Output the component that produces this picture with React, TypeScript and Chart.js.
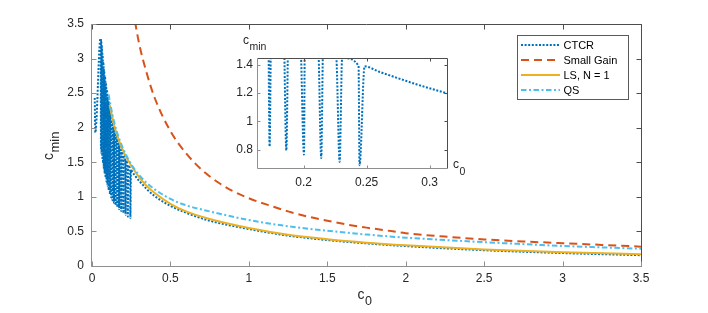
import React, { useEffect, useRef } from 'react';
import { Chart, registerables } from 'chart.js';

Chart.register(...registerables);

// ---------- data ----------
// CTCR: start, peak, V-shaped notches (left top, bottom, right top), then smooth tail
const ctcrC0 = [
  0.0175, 0.021, 0.054,
  0.0562, 0.0569, 0.0573,
  0.0602, 0.061, 0.0615,
  0.0646, 0.0654, 0.0659,
  0.0692, 0.0701, 0.0706,
  0.0742, 0.0751, 0.0757,
  0.0795, 0.0805, 0.0811,
  0.0852, 0.0863, 0.0869,
  0.0913, 0.0925, 0.0932,
  0.098, 0.0992, 0.0999,
  0.105, 0.1063, 0.1071,
  0.1126, 0.114, 0.1149,
  0.1207, 0.1222, 0.1231,
  0.1294, 0.131, 0.132,
  0.1386, 0.1404, 0.1415,
  0.1486, 0.1505, 0.1516,
  0.1594, 0.1614, 0.1626,
  0.1718, 0.173, 0.1744,
  0.184, 0.1863, 0.188,
  0.1972, 0.2003, 0.201,
  0.2115, 0.214, 0.2155,
  0.2258, 0.2286, 0.2306,
  0.2317, 0.2436, 0.2444, 0.2484,
  0.26, 0.2714, 0.29, 0.313, 0.35, 0.4, 0.5, 0.6, 0.75, 1.0, 1.25, 1.5, 1.75, 2.0, 2.5, 3.0, 3.5,
];
const ctcrVal = [
  2.43, 1.93, 3.29,
  3.28, 1.7, 3.27,
  3.2, 1.63, 3.19,
  3.08, 1.56, 3.07,
  2.96, 1.49, 2.95,
  2.85, 1.42, 2.84,
  2.75, 1.35, 2.74,
  2.65, 1.28, 2.64,
  2.56, 1.22, 2.55,
  2.47, 1.16, 2.46,
  2.38, 1.1, 2.37,
  2.29, 1.04, 2.28,
  2.2, 0.99, 2.19,
  2.11, 0.95, 2.1,
  2.02, 0.915, 2.01,
  1.94, 0.88, 1.93,
  1.85, 0.85, 1.84,
  1.77, 0.823, 1.76,
  1.69, 0.795, 1.68,
  1.61, 0.765, 1.6,
  1.535, 0.741, 1.525,
  1.465, 0.713, 1.455,
  1.447, 1.392, 0.69, 1.388,
  1.35, 1.315, 1.26, 1.2, 1.11, 1.01, 0.87, 0.77, 0.655, 0.535, 0.44, 0.375, 0.327, 0.288, 0.228, 0.187, 0.156,
];

const sgC0 = [0.26, 0.3, 0.35, 0.4, 0.5, 0.6, 0.7, 0.8, 0.9, 1.0, 1.125, 1.25, 1.375, 1.5, 1.625, 1.75, 1.875, 2.0, 2.25, 2.5, 2.75, 3.0, 3.25, 3.5];
const sgVal = [3.72, 3.22, 2.78, 2.43, 1.95, 1.63, 1.39, 1.215, 1.08, 0.98, 0.88, 0.79, 0.715, 0.655, 0.6, 0.555, 0.515, 0.475, 0.425, 0.385, 0.355, 0.33, 0.305, 0.28];

const lsC0 = [0.112, 0.136, 0.16, 0.21, 0.253, 0.3, 0.35, 0.4, 0.5, 0.6, 0.75, 1.0, 1.25, 1.5, 1.75, 2.0, 2.5, 3.0, 3.5];
const lsVal = [2.33, 2.08, 1.89, 1.61, 1.443, 1.285, 1.155, 1.055, 0.9, 0.79, 0.68, 0.55, 0.453, 0.388, 0.338, 0.3, 0.239, 0.199, 0.17];

const qsC0 = [0.106, 0.13, 0.16, 0.2, 0.25, 0.3, 0.35, 0.4, 0.5, 0.6, 0.75, 1.0, 1.25, 1.5, 1.75, 2.0, 2.5, 3.0, 3.5];
const qsVal = [2.48, 2.19, 1.93, 1.69, 1.47, 1.317, 1.2, 1.108, 0.97, 0.878, 0.79, 0.665, 0.575, 0.51, 0.455, 0.41, 0.345, 0.29, 0.25];

const mainXTicks = [0, 0.5, 1, 1.5, 2, 2.5, 3, 3.5];
const mainXLabels = ['0', '0.5', '1', '1.5', '2', '2.5', '3', '3.5'];
const mainYTicks = [0, 0.5, 1, 1.5, 2, 2.5, 3, 3.5];
const mainYLabels = ['0', '0.5', '1', '1.5', '2', '2.5', '3', '3.5'];

const insetXTicks = [0.2, 0.25, 0.3];
const insetXLabels = ['0.2', '0.25', '0.3'];
const insetYTicks = [0.8, 1, 1.2, 1.4];
const insetYLabels = ['0.8', '1', '1.2', '1.4'];

const legendLabels = ['CTCR', 'Small Gain', 'LS, N = 1', 'QS'];

// ---------- styles ----------
const FONT = "'Liberation Sans', Arial, Helvetica, sans-serif";
const C_CTCR = '#0072BD';
const C_SG = '#D95319';
const C_LS = '#EDB120';
const C_QS = '#4DBEEE';
const DASH_CTCR = [2, 1.6];
const DASH_SG = [8, 5];
const DASH_LS: number[] = [];
const DASH_QS = [5.5, 2.5, 2, 2.5];
const TEXT = '#262626';

const pts = (xs: number[], ys: number[]) => xs.map((x, i) => ({ x, y: ys[i] }));

function framePlugin(tickLen: number) {
  return {
    id: 'frame',
    afterDatasetsDraw(chart: any) {
      const { ctx, chartArea } = chart;
      const { left, right, top, bottom } = chartArea;
      const xs = chart.scales.x;
      const ys = chart.scales.y;
      const L = left - 0.5;
      const R = right + 0.5;
      const T = top + 0.5;
      const B = bottom + 0.5;
      ctx.save();
      ctx.lineWidth = 1;
      ctx.setLineDash([]);
      ctx.strokeStyle = '#4d4d4d';
      ctx.beginPath();
      ctx.moveTo(L, T);
      ctx.lineTo(R, T);
      ctx.lineTo(R, B);
      for (const t of xs.ticks) {
        const px = Math.round(xs.getPixelForValue(t.value)) + 0.5;
        ctx.moveTo(px, T);
        ctx.lineTo(px, T + tickLen);
      }
      for (const t of ys.ticks) {
        const py = Math.round(ys.getPixelForValue(t.value)) + 0.5;
        ctx.moveTo(R, py);
        ctx.lineTo(R - tickLen, py);
      }
      ctx.stroke();
      ctx.strokeStyle = '#8f8f8f';
      ctx.beginPath();
      ctx.moveTo(L, T);
      ctx.lineTo(L, B);
      ctx.lineTo(R, B);
      for (const t of xs.ticks) {
        const px = Math.round(xs.getPixelForValue(t.value)) + 0.5;
        ctx.moveTo(px, B);
        ctx.lineTo(px, B - tickLen);
      }
      for (const t of ys.ticks) {
        const py = Math.round(ys.getPixelForValue(t.value)) + 0.5;
        ctx.moveTo(L, py);
        ctx.lineTo(L + tickLen, py);
      }
      ctx.stroke();
      ctx.restore();
    },
  };
}

function drawSub(ctx: CanvasRenderingContext2D, x: number, y: number, base: string, sub: string, baseSize: number, subSize: number, dy: number) {
  ctx.font = `${baseSize}px ${FONT}`;
  ctx.fillText(base, x, y);
  const w = ctx.measureText(base).width;
  ctx.font = `${subSize}px ${FONT}`;
  ctx.fillText(sub, x + w + 0.5, y + dy);
}

const mainDecor = {
  id: 'mainDecor',
  afterDraw(chart: any) {
    const ctx: CanvasRenderingContext2D = chart.ctx;
    ctx.save();
    ctx.fillStyle = TEXT;
    ctx.textBaseline = 'alphabetic';
    ctx.textAlign = 'left';
    drawSub(ctx, 357.5, 299, 'c', '0', 14, 12.5, 5.5);
    ctx.save();
    ctx.translate(53, 160);
    ctx.rotate(-Math.PI / 2);
    drawSub(ctx, 0, 0, 'c', 'min', 14, 13, 6);
    ctx.restore();

    const bx = 517.5, by = 35.5, bw = 111, bh = 64;
    ctx.fillStyle = '#ffffff';
    ctx.fillRect(bx, by, bw, bh);
    ctx.strokeStyle = '#5a5a5a';
    ctx.lineWidth = 1;
    ctx.setLineDash([]);
    ctx.strokeRect(bx, by, bw, bh);
    const colors = [C_CTCR, C_SG, C_LS, C_QS];
    const dashes = [DASH_CTCR, DASH_SG, DASH_LS, DASH_QS];
    legendLabels.forEach((lab, i) => {
      const yy = 45 + i * 15;
      ctx.beginPath();
      ctx.strokeStyle = colors[i];
      ctx.lineWidth = 2;
      ctx.setLineDash(dashes[i]);
      ctx.moveTo(521, yy);
      ctx.lineTo(560, yy);
      ctx.stroke();
      ctx.setLineDash([]);
      ctx.fillStyle = '#000000';
      ctx.font = `11px ${FONT}`;
      ctx.textBaseline = 'middle';
      ctx.fillText(lab, 563.5, yy + 0.5);
    });
    ctx.restore();
  },
};

const insetDecor = {
  id: 'insetDecor',
  afterDraw(chart: any) {
    const ctx: CanvasRenderingContext2D = chart.ctx;
    ctx.save();
    ctx.fillStyle = TEXT;
    ctx.textBaseline = 'alphabetic';
    ctx.textAlign = 'left';
    drawSub(ctx, 43, 18.5, 'c', 'min', 12, 10.5, 6);
    drawSub(ctx, 253, 143, 'c', '0', 12, 10.5, 7);
    ctx.restore();
  },
};

function lineDs(label: string, data: any[], color: string, dash: number[], order: number) {
  return {
    label,
    data,
    borderColor: color,
    backgroundColor: color,
    borderWidth: 2,
    borderDash: dash,
    pointRadius: 0,
    fill: false,
    cubicInterpolationMode: 'monotone' as const,
    clip: 0,
    order,
  };
}

function tickScale(ticks: number[], labels: string[], min: number, max: number, fixedSize: number, horizontal: boolean, padding: number) {
  return {
    type: 'linear' as const,
    min,
    max,
    grid: { display: false, drawTicks: false },
    border: { display: false },
    afterBuildTicks: (s: any) => {
      s.ticks = ticks.map((v) => ({ value: v }));
    },
    afterFit: (s: any) => {
      if (horizontal) s.height = fixedSize;
      else s.width = fixedSize;
    },
    ticks: {
      autoSkip: false,
      maxRotation: 0,
      minRotation: 0,
      padding,
      color: TEXT,
      font: { family: FONT, size: 12 },
      callback: (_v: any, i: number) => labels[i],
    },
  };
}

export default function App() {
  const mainRef = useRef<HTMLCanvasElement>(null);
  const insetRef = useRef<HTMLCanvasElement>(null);

  useEffect(() => {
    const main = new Chart(mainRef.current as HTMLCanvasElement, {
      type: 'line',
      data: {
        datasets: [
          lineDs('CTCR', pts(ctcrC0, ctcrVal), C_CTCR, DASH_CTCR, 4),
          lineDs('Small Gain', pts(sgC0, sgVal), C_SG, DASH_SG, 3),
          lineDs('LS, N = 1', pts(lsC0, lsVal), C_LS, DASH_LS, 2),
          lineDs('QS', pts(qsC0, qsVal), C_QS, DASH_QS, 1),
        ] as any,
      },
      options: {
        responsive: false,
        animation: false,
        events: [],
        layout: { padding: { left: 0, right: 67, top: 24, bottom: 0 } },
        plugins: { legend: { display: false }, tooltip: { enabled: false }, title: { display: false } },
        scales: {
          x: tickScale(mainXTicks, mainXLabels, 0, 3.5, 47, true, 5),
          y: tickScale(mainYTicks, mainYLabels, 0, 3.5, 92, false, 8),
        } as any,
      },
      plugins: [framePlugin(5), mainDecor],
    });

    const inset = new Chart(insetRef.current as HTMLCanvasElement, {
      type: 'line',
      data: {
        datasets: [lineDs('CTCR', pts(ctcrC0, ctcrVal), C_CTCR, DASH_CTCR, 1)] as any,
      },
      options: {
        responsive: false,
        animation: false,
        events: [],
        layout: { padding: { left: 0, right: 33, top: 33, bottom: 0 } },
        plugins: { legend: { display: false }, tooltip: { enabled: false }, title: { display: false } },
        scales: {
          x: tickScale(insetXTicks, insetXLabels, 0.1638, 0.3138, 32, true, 7),
          y: tickScale(insetYTicks, insetYLabels, 0.67, 1.447, 58, false, 5),
        } as any,
      },
      plugins: [framePlugin(3), insetDecor],
    });

    return () => {
      main.destroy();
      inset.destroy();
    };
  }, []);

  return (
    <div style={{ position: 'fixed', left: 0, top: 0, width: 708, height: 313, background: '#ffffff' }}>
      <canvas ref={mainRef} width={708} height={313} style={{ position: 'absolute', left: 0, top: 0, width: 708, height: 313 }} />
      <canvas ref={insetRef} width={280} height={175} style={{ position: 'absolute', left: 200, top: 25, width: 280, height: 175 }} />
    </div>
  );
}
